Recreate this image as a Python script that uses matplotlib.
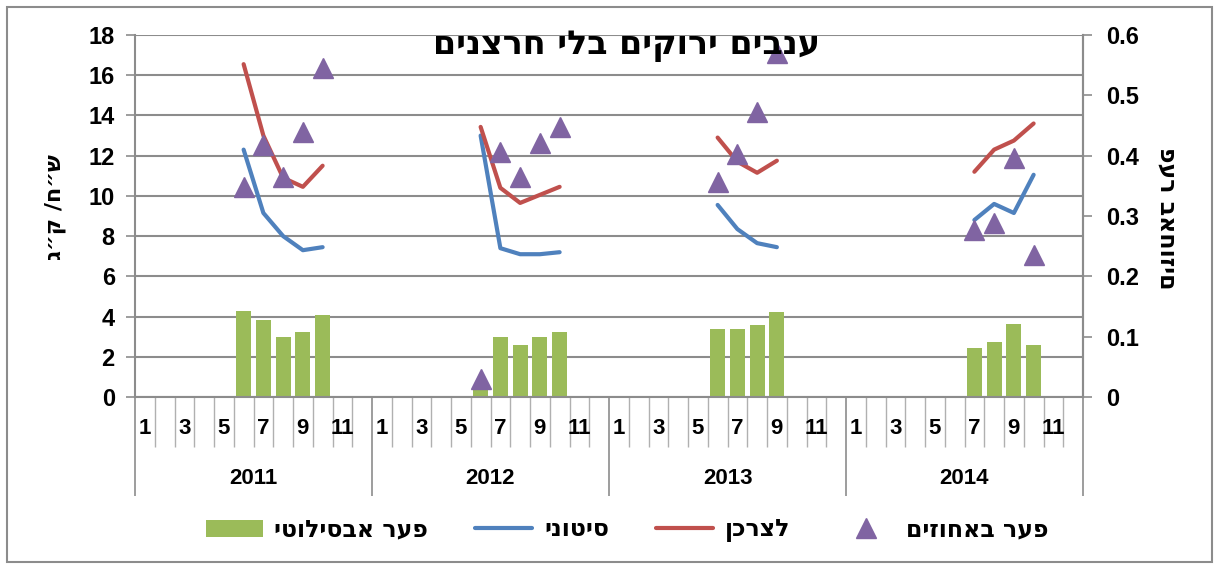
import numpy as np
import matplotlib
matplotlib.use("Agg")
import matplotlib.pyplot as plt
from matplotlib.patches import Rectangle
from matplotlib.lines import Line2D
from matplotlib.patches import Patch

plt.rcParams['font.family'] = ['Liberation Sans', 'DejaVu Sans']
plt.rcParams['font.weight'] = 'bold'
HEB_FONT = ['DejaVu Sans']

nan = np.nan
years = [2011, 2012, 2013, 2014]
month_labels = ['1', '', '3', '', '5', '', '7', '', '9', '', '11', '']

# retail (לצרכן), NIS/kg, 12 months per year
retail = [
    nan, nan, nan, nan, nan, 16.55, 13.0, 10.9, 10.45, 11.5, nan, nan,
    nan, nan, nan, nan, nan, 13.43, 10.4, 9.65, 10.05, 10.45, nan, nan,
    nan, nan, nan, nan, nan, 12.9, 11.7, 11.15, 11.75, nan, nan, nan,
    nan, nan, nan, nan, nan, nan, 11.2, 12.3, 12.75, 13.6, nan, nan,
]
# wholesale (סיטוני)
wholesale = [
    nan, nan, nan, nan, nan, 12.3, 9.15, 8.0, 7.3, 7.45, nan, nan,
    nan, nan, nan, nan, nan, 13.0, 7.4, 7.1, 7.1, 7.2, nan, nan,
    nan, nan, nan, nan, nan, 9.55, 8.35, 7.65, 7.45, nan, nan, nan,
    nan, nan, nan, nan, nan, nan, 8.8, 9.6, 9.15, 11.05, nan, nan,
]
# absolute gap (פער אבסילוטי)
abs_gap = [
    nan, nan, nan, nan, nan, 4.28, 3.83, 2.98, 3.23, 4.08, nan, nan,
    nan, nan, nan, nan, nan, 0.45, 2.98, 2.58, 2.98, 3.23, nan, nan,
    nan, nan, nan, nan, nan, 3.38, 3.36, 3.58, 4.23, nan, nan, nan,
    nan, nan, nan, nan, nan, nan, 2.44, 2.74, 3.63, 2.59, nan, nan,
]
# percentage gap (פער באחוזים), right axis
pct_gap = [
    nan, nan, nan, nan, nan, 0.348, 0.418, 0.365, 0.44, 0.545, nan, nan,
    nan, nan, nan, nan, nan, 0.03, 0.406, 0.365, 0.421, 0.448, nan, nan,
    nan, nan, nan, nan, nan, 0.357, 0.403, 0.473, 0.57, nan, nan, nan,
    nan, nan, nan, nan, nan, nan, 0.277, 0.289, 0.396, 0.235, nan, nan,
]

title = "ענבים ירוקים בלי חרצנים"
ylabel_left = "ש״ח/ ק״ג"
ylabel_right = "פער באחוזים"
legend_labels = ["פער אבסילוטי", "סיטוני", "לצרכן", "פער באחוזים"]

def heb(s):
    return s[::-1]

GREEN = '#9BBB59'
BLUE = '#4F81BD'
RED = '#C0504D'
PURPLE = '#8064A2'
GRAY = '#8C8C8C'

W, H = 1219, 569
fig = plt.figure(figsize=(W / 100, H / 100), dpi=100)
L, R, T, B = 135, 1083, 35, 397
ax = fig.add_axes([L / W, 1 - B / H, (R - L) / W, (B - T) / H])

n = len(retail)
x = np.arange(n) + 0.5
abs_arr = np.array(abs_gap, dtype=float)
mask = ~np.isnan(abs_arr)
ax.bar(x[mask], abs_arr[mask], width=0.76, color=GREEN, zorder=2)
ax.plot(x, wholesale, color=BLUE, lw=3, solid_capstyle='round', zorder=3)
ax.plot(x, retail, color=RED, lw=3, solid_capstyle='round', zorder=3)

ax.set_xlim(0, n)
ax.set_ylim(0, 18)
ax.set_yticks(np.arange(0, 19, 2))
ax.yaxis.grid(True, color=GRAY, lw=1.5, zorder=0)
ax.set_axisbelow(True)
ax.spines['top'].set_visible(False)
for s in ['left', 'right', 'bottom']:
    ax.spines[s].set_color(GRAY)
    ax.spines[s].set_linewidth(1.5)
ax.tick_params(axis='y', length=6.5, width=1.2, color=GRAY, pad=8, labelsize=17)

# category axis ticks
ax.set_xticks(range(0, n + 1, 12))
ax.set_xticklabels([])
ax.set_xticks(range(0, n + 1), minor=True)
ax.tick_params(axis='x', which='major', length=71, width=1.2, color=GRAY)
ax.tick_params(axis='x', which='minor', length=36, width=1.0, color='#B0B0B0')

xt = ax.get_xaxis_transform()
for yi in range(len(years)):
    for m, lab in enumerate(month_labels):
        if lab:
            ax.text(yi * 12 + m + 0.5, -31 / 362, lab, transform=xt,
                    ha='center', va='center', fontsize=16, fontweight='bold')
    ax.text(yi * 12 + 6, -81 / 362, str(years[yi]), transform=xt,
            ha='center', va='center', fontsize=16, fontweight='bold')

ax2 = ax.twinx()
ax2.set_ylim(0, 0.6)
ax2.set_yticks(np.round(np.arange(0, 0.61, 0.1), 1))
ax2.set_yticklabels(['0', '0.1', '0.2', '0.3', '0.4', '0.5', '0.6'])
ax2.plot(x, pct_gap, ls='none', marker='^', ms=15, color=PURPLE, zorder=4)
for s in ['top', 'left', 'bottom']:
    ax2.spines[s].set_visible(False)
ax2.spines['right'].set_color(GRAY)
ax2.spines['right'].set_linewidth(1.5)
ax2.tick_params(axis='y', length=6.5, width=1.2, color=GRAY, pad=10, labelsize=17)

# texts
fig.text(627 / W, 1 - 46 / H, heb(title), ha='center', va='center',
         fontsize=24, fontweight='bold', family=HEB_FONT)
fig.text(55 / W, 1 - 207 / H, heb(ylabel_left), rotation=90, ha='center',
         va='center', fontsize=16, fontweight='bold', family=HEB_FONT)
fig.text(1168 / W, 1 - 218 / H, ylabel_right, rotation=270, ha='center',
         va='center', fontsize=17, fontweight='bold', family=HEB_FONT)

handles = [Patch(facecolor=GREEN),
           Line2D([], [], color=BLUE, lw=3, solid_capstyle='round'),
           Line2D([], [], color=RED, lw=3, solid_capstyle='round'),
           Line2D([], [], ls='none', marker='^', ms=15, color=PURPLE)]
fig.legend(handles, [heb(s) for s in legend_labels], loc='center',
           bbox_to_anchor=(627 / W, 1 - 530 / H), ncol=4, frameon=False,
           prop={'size': 17, 'weight': 'bold', 'family': HEB_FONT},
           handlelength=2.4, columnspacing=2.0, handletextpad=0.5)

fig.add_artist(Rectangle((7 / W, 7 / H), 1 - 14 / W, 1 - 14 / H,
                         transform=fig.transFigure, fill=False,
                         edgecolor=GRAY, lw=1.5))

fig.savefig('out.png', dpi=100)
